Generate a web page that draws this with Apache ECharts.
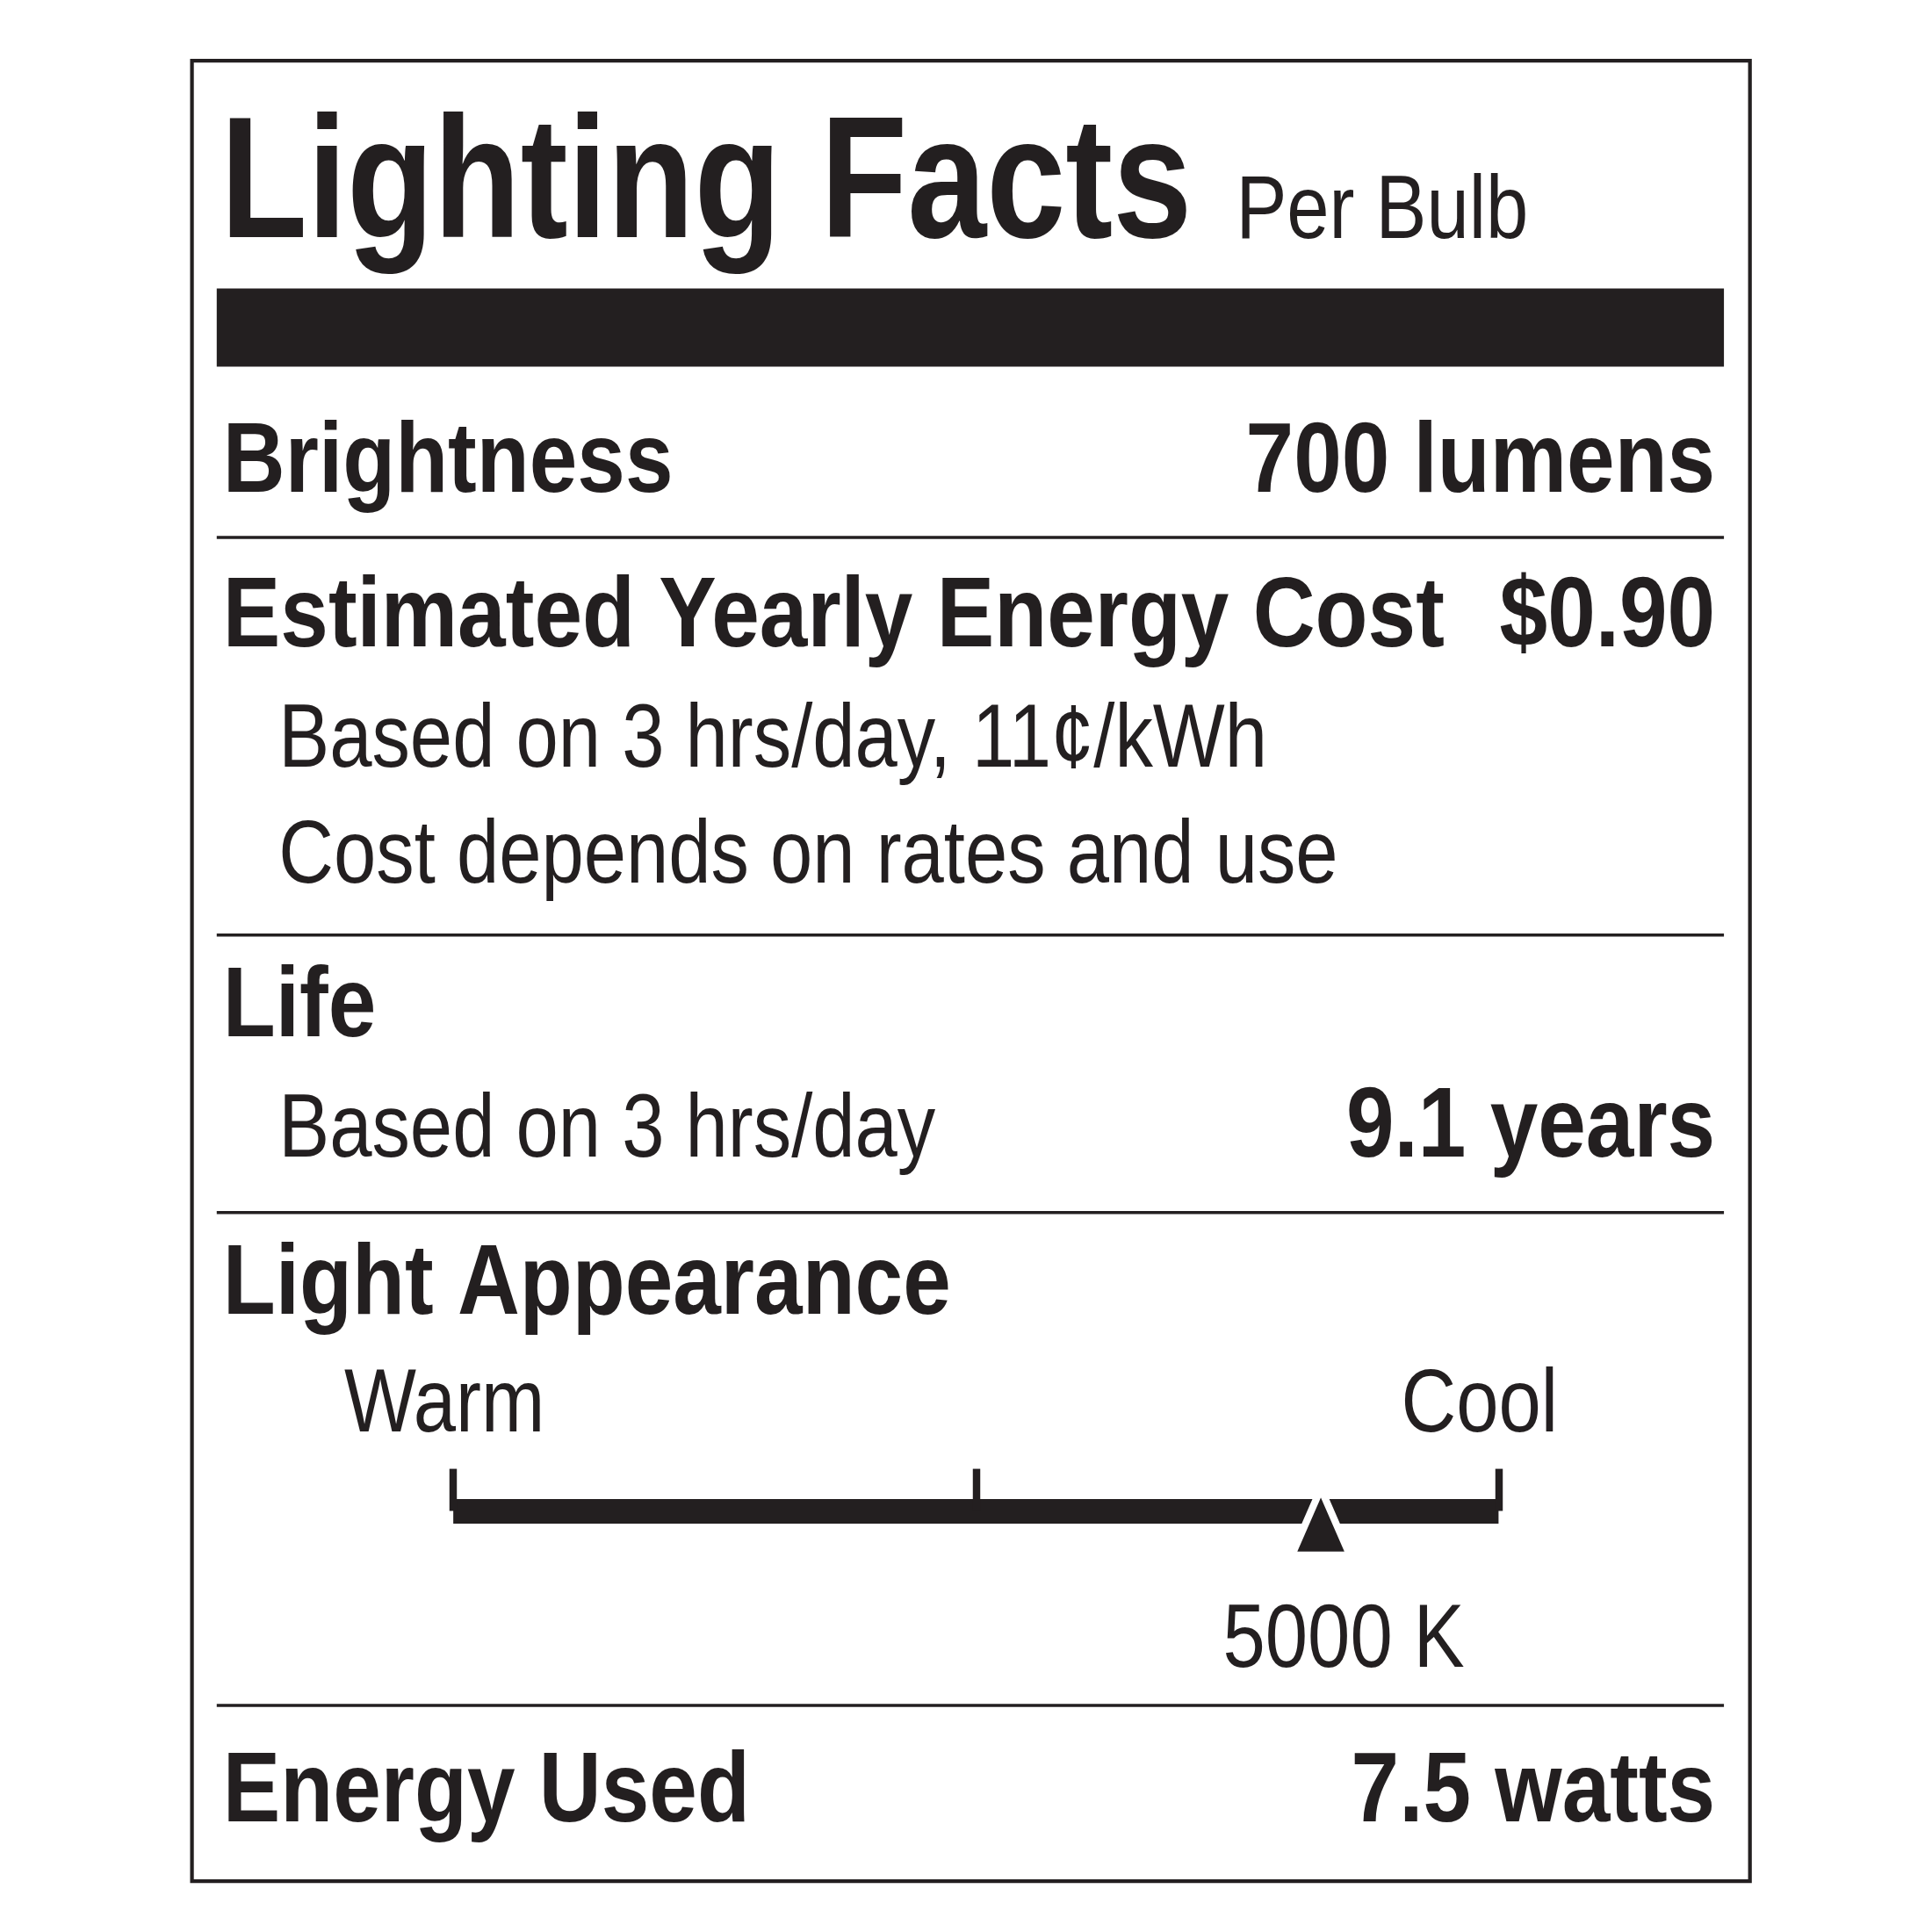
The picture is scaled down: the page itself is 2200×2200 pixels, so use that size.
<!DOCTYPE html>
<html>
<head>
<meta charset="utf-8">
<script src="https://cdn.jsdelivr.net/npm/echarts@6/dist/echarts.min.js"></script>
<style>
html, body { margin: 0; padding: 0; background: #fff; }
#main { width: 2200px; height: 2200px; }
</style>
</head>
<body>
<div id="main"></div>
<script>
// label rows: [left text, right text]
var rowLabels = ['Brightness', 'Estimated Yearly Energy Cost', 'Life', 'Light Appearance', 'Energy Used'];
var rowValues = ['700 lumens', '$0.90', '', '', '7.5 watts'];
var costNotes = ['Based on 3 hrs/day, 11\u00a2/kWh', 'Cost depends on rates and use'];
var lifeNote = 'Based on 3 hrs/day';
var lifeValue = '9.1 years';
var scaleEnds = ['Warm', 'Cool'];
var scaleTicks = [0, 50, 100];
var markerPos = [83];
var markerLabel = '5000 K';

var s = 2200 / 1560;
function S(v) { return v * s; }
var ink = '#231f20';
var font = '"Liberation Sans", Arial, sans-serif';

// no condensed face installed, so squeeze text horizontally
function txt(x, baseline, text, size, bold, align, squeeze) {
    return {
        type: 'text',
        x: S(x),
        y: S(baseline + size * 0.21),
        scaleX: squeeze || (bold ? 0.87 : 0.855),
        style: {
            text: text,
            fill: ink,
            font: (bold ? 'bold ' : '') + S(size) + 'px ' + font,
            align: align || 'left',
            verticalAlign: 'bottom'
        }
    };
}
function hline(y, w) {
    return { type: 'rect', shape: { x: S(175), y: S(y - w / 2), width: S(1217), height: S(w) }, style: { fill: ink } };
}

var graphics = [
    { type: 'rect', shape: { x: S(155), y: S(49), width: S(1258), height: S(1470) }, style: { fill: 'none', stroke: ink, lineWidth: S(3) } },
    txt(178, 193, 'Lighting Facts', 140, true, 'left', 0.82),
    txt(998, 193, 'Per Bulb', 72, false),
    { type: 'rect', shape: { x: S(175), y: S(233), width: S(1217), height: S(63) }, style: { fill: ink } },
    txt(180, 398, rowLabels[0], 80, true), txt(1385, 398, rowValues[0], 80, true, 'right'),
    hline(434, 2.5),
    txt(180, 523, rowLabels[1], 80, true), txt(1385, 523, rowValues[1], 80, true, 'right'),
    txt(225, 620, costNotes[0], 72, false),
    txt(225, 714, costNotes[1], 72, false),
    hline(755, 2.5),
    txt(180, 838, rowLabels[2], 80, true),
    txt(225, 935, lifeNote, 72, false), txt(1385, 935, lifeValue, 80, true, 'right'),
    hline(979, 2.5),
    txt(180, 1062, rowLabels[3], 80, true),
    txt(278, 1157, scaleEnds[0], 72, false), txt(1258, 1157, scaleEnds[1], 72, false, 'right'),
    hline(1377, 2.5),
    txt(180, 1472, rowLabels[4], 80, true), txt(1385, 1472, rowValues[4], 80, true, 'right'),
    {
        type: 'text', x: S(1085), y: S(1347 + 72 * 0.21), scaleX: 0.855,
        style: { text: markerLabel, fill: ink, font: S(72) + 'px ' + font, align: 'center', verticalAlign: 'bottom' }
    }
];

var chart = echarts.init(document.getElementById('main'), null, { renderer: 'canvas' });
chart.setOption({
    backgroundColor: '#fff',
    animation: false,
    grid: { left: S(366), width: S(844), top: S(1100), height: S(120) },
    xAxis: {
        type: 'value', min: 0, max: 100, interval: 50,
        axisLine: { lineStyle: { color: ink, width: S(20), cap: 'butt' } },
        axisTick: { show: true, inside: true, length: S(34), lineStyle: { color: ink, width: S(6) } },
        axisLabel: { show: false },
        splitLine: { show: false },
        data: scaleTicks
    },
    yAxis: { type: 'value', min: 0, max: 1, show: false },
    series: [{
        type: 'scatter',
        symbol: 'triangle',
        symbolSize: [S(47), S(54)],
        symbolOffset: [0, S(9)],
        itemStyle: { color: ink, opacity: 1, borderColor: '#fff', borderWidth: S(6) },
        data: markerPos.map(function (p) { return [p, 0]; })
    }],
    graphic: graphics
});
</script>
</body>
</html>
